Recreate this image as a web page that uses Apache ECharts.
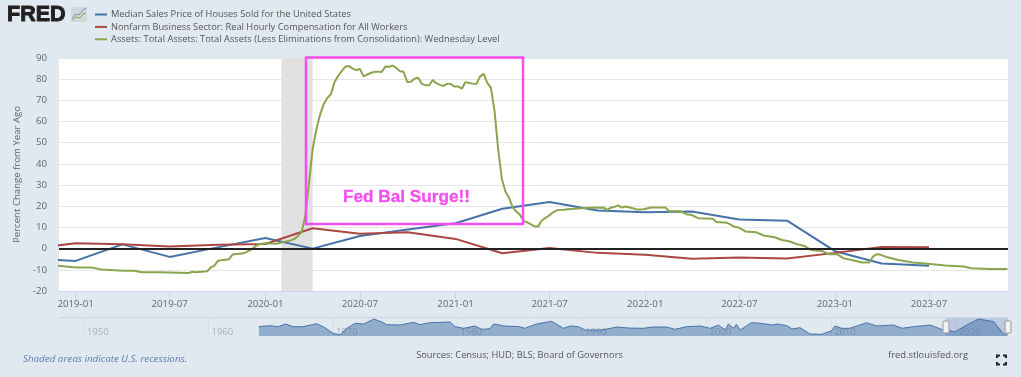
<!DOCTYPE html>
<html><head><meta charset="utf-8">
<style>html,body{margin:0;padding:0;background:#e1e9f0}#c{width:1021px;height:377px}</style>
<script src="https://cdn.jsdelivr.net/npm/echarts@6/dist/echarts.min.js"></script>
</head><body><div id="c"></div>
<script>
const blueName = 'Median Sales Price of Houses Sold for the United States';
const redName = 'Nonfarm Business Sector: Real Hourly Compensation for All Workers';
const greenName = 'Assets: Total Assets: Total Assets (Less Eliminations from Consolidation): Wednesday Level';
const quarters = ['2018-10-01','2019-01-01','2019-04-01','2019-07-01','2019-10-01','2020-01-01','2020-04-01','2020-07-01','2020-10-01','2021-01-01','2021-04-01','2021-07-01','2021-10-01','2022-01-01','2022-04-01','2022-07-01','2022-10-01','2023-01-01','2023-04-01','2023-07-01'];
const blueValues = [-4.6,-5.8,2.0,-3.9,0.6,5.0,0.0,6.0,9.0,12.0,18.8,22.0,18.0,17.2,17.5,13.8,13.2,-1.2,-7.0,-8.1];
const redValues = [-0.1,2.5,2.1,1.0,1.8,2.2,9.6,7.0,7.7,4.6,-2.2,0.3,-2.0,-2.9,-4.8,-4.2,-4.7,-2.0,0.8,0.6];
const greenStart = '2018-11-28';
const greenWeeks = [0,5,9,12,18,21,23,28,36,37,38,41,42,43,44,47,48,51,53,55,57,59,60,64,65,66,67,68,69,70,71,72,73,74,75,76,77,78,79,80,81,82,83,84,85,86,87,88,89,90,91,92,93,94,95,96,97,98,99,100,101,102,103,104,105,106,107,108,109,110,111,112,113,114,115,116,117,118,119,120,121,122,123,124,125,126,127,128,129,130,131,132,133,134,135,136,137,138,139,140,146,150,151,152,153,154,155,156,158,159,161,163,167,168,171,173,174,176,180,181,184,186,187,189,192,194,197,199,201,203,205,207,210,212,214,216,219,221,223,224,225,226,228,231,235,239,244,249,251,256,261];
const greenValues = [-8.1,-8.9,-8.85,-9.8,-10.4,-10.4,-11.1,-11.2,-11.5,-10.9,-11.2,-10.7,-8.9,-8,-5.7,-5,-2.8,-2.2,-0.6,2,2.5,2.4,2.3,3.9,4.6,6,7.9,15.5,31,47,56,63,68,71,72.8,78.5,81.5,83.8,85.9,86.2,85,84.3,84.8,81.3,82.2,82.9,83.5,83.5,83.4,86,85.9,86.4,85.3,83.7,83.5,78.7,78.8,80.2,80.7,77.8,77.2,77,79.6,78.1,77.3,76.8,77.9,77.7,76.5,76.6,75.5,78.6,78.2,77.9,77.7,81.2,82.6,78.3,76,65,47,33,27,24,19.5,17.5,16,13,12.4,11.5,10.5,10.5,13.3,14.5,15.6,17,18,18.3,18.4,18.6,19.3,19.4,18.3,19.4,19.7,20.4,19.4,19.9,19.1,18.5,18.6,19.4,19.4,17.7,17.7,16.1,16,14.4,14.1,12.6,12.2,10.3,10,8.1,7.7,6.2,5.4,4.1,3.5,2.2,1.4,-0.6,-1.1,-2.7,-2.5,-4.6,-5.7,-6.5,-6.5,-3.8,-2.7,-2.8,-4.1,-5.4,-6.5,-7.1,-8,-8.4,-9.3,-9.6,-9.6];
const xTickLabels = ['2019-01-01','2019-07-01','2020-01-01','2020-07-01','2021-01-01','2021-07-01','2022-01-01','2022-07-01','2023-01-01','2023-07-01'];
const recession = ['2020-02-01','2020-04-01'];
const navYears = [1964.05,1964.9,1965.6,1966.2,1966.8,1967.6,1968.7,1969.35,1970,1970.55,1971.1,1971.8,1972.45,1973.3,1974.05,1974.3,1975.4,1976.45,1977,1977.8,1979.4,1979.8,1980.5,1981.4,1981.95,1982.6,1982.9,1983.4,1983.7,1985,1985.4,1986.35,1987.55,1988.5,1989.05,1989.7,1990.25,1991.6,1992.8,1993.7,1994.9,1995.7,1996.8,1997.45,1998.4,1999.5,2000.3,2000.95,2001.5,2001.75,2002.15,2002.4,2002.7,2003.6,2004.3,2005.3,2005.65,2006.45,2006.85,2007.5,2008.3,2009.25,2010.05,2010.3,2010.85,2011.5,2012.85,2013.65,2015,2015.7,2016.6,2017.95,2019,2019.95,2020.9,2021.85,2023.05,2023.85,2024.15];
const navValues = [9.3,10.3,9.3,12,9.3,9.3,12.3,8.3,2.7,1,7.7,12.7,12,17,13.3,11.3,11,13.7,11.3,13.3,14,9.3,7.7,10,6.7,7.3,12,11,10,9.3,7.7,12,14.7,7.7,10,9.3,6,6,9,8,7.7,9,9,6.7,9.3,10,7.7,11,6,12,7.7,11.7,6,13.3,12.7,11,12,10.3,7,8.3,2,1.7,5.3,10,7.7,7.7,13.3,10,11,7.7,9.3,11,6,4.3,11,17,14.3,2,1];
const navTicks = [1950,1960,1970,1980,1990,2000,2010,2020];

const ts = s => new Date(s + 'T00:00:00Z').getTime();
const WEEK = 7 * 864e5;
const font = '"Open Sans", sans-serif';
const chart = echarts.init(document.getElementById('c'), null, {renderer: 'canvas'});
const txt = (x, y, text, fill, size, extra) => ({type: 'text', x, y, z: 50, silent: true,
  style: Object.assign({text, fill, font: `${size}px ${font}`, textVerticalAlign: 'middle'}, extra || {})});
const corner = (pts) => ({type: 'polyline', z: 50, silent: true, shape: {points: pts}, style: {stroke: '#222', lineWidth: 2, fill: null}});

chart.setOption({
  animation: false,
  backgroundColor: '#e1e9f0',
  color: ['#4572a7', '#aa4643', '#89a54e'],
  legend: {
    data: [blueName, redName, greenName], orient: 'vertical', left: 95, top: 8.5, itemWidth: 12, itemHeight: 2,
    itemGap: 0.4, icon: 'rect', selectedMode: false, padding: 0,
    textStyle: {fontFamily: font, fontSize: 9.3, lineHeight: 12, color: '#555', padding: [0, 0, 0, -1]}
  },
  grid: [
    {left: 59, top: 58, width: 949, height: 233, show: true, backgroundColor: '#fff', borderWidth: 0},
    {left: 59, top: 318, width: 949, height: 18, show: false}
  ],
  xAxis: [
    {type: 'value', gridIndex: 0, min: ts('2018-11-30'), max: ts('2023-11-30'),
      axisLine: {show: true, onZero: false, lineStyle: {color: '#ccd6eb'}},
      axisTick: {show: true, length: 10, lineStyle: {color: '#ccd6eb'}, customValues: xTickLabels.map(ts)},
      splitLine: {show: false},
      axisLabel: {customValues: xTickLabels.map(ts), margin: 8, color: '#666', fontFamily: font, fontSize: 9.7,
        hideOverlap: false, showMinLabel: true, showMaxLabel: true,
        formatter: v => new Date(v).toISOString().slice(0, 7)}},
    {type: 'value', gridIndex: 1, min: 1948, max: 2024.2,
      axisLine: {show: false},
      axisTick: {show: true, inside: true, length: 19, lineStyle: {color: '#d5dde6'}, customValues: navTicks},
      splitLine: {show: false},
      axisLabel: {inside: true, customValues: navTicks, margin: -1, align: 'left', color: '#a9b0b6', fontFamily: font,
        fontSize: 9.5, padding: [0, 0, 0, 3], verticalAlign: 'bottom', formatter: v => String(v)}}
  ],
  yAxis: [
    {type: 'value', gridIndex: 0, min: -20, max: 90, interval: 10,
      name: 'Percent Change from Year Ago', nameLocation: 'middle', nameGap: 35, nameRotate: 90,
      nameTextStyle: {color: '#666', fontFamily: font, fontSize: 9.6},
      axisLine: {show: false}, axisTick: {show: false},
      axisLabel: {color: '#666', fontFamily: font, fontSize: 9.7, margin: 12},
      splitLine: {lineStyle: {color: '#e6e6e6', width: 1}}},
    {type: 'value', gridIndex: 1, min: 0, max: 18, show: false}
  ],
  series: [
    {name: blueName, type: 'line', showSymbol: false, symbol: 'none', lineStyle: {width: 2}, z: 3,
      data: quarters.map((q, i) => [ts(q), blueValues[i]]),
      markArea: {silent: true, z: 1, itemStyle: {color: '#e1e1e1'}, data: [[{xAxis: ts(recession[0])}, {xAxis: ts(recession[1])}]]}},
    {name: redName, type: 'line', showSymbol: false, symbol: 'none', lineStyle: {width: 2}, z: 3,
      data: quarters.map((q, i) => [ts(q), redValues[i]])},
    {name: greenName, type: 'line', showSymbol: false, symbol: 'none', lineStyle: {width: 2}, z: 3,
      data: greenWeeks.map((w, i) => [ts(greenStart) + w * WEEK, greenValues[i]]),
      markLine: {silent: true, symbol: 'none', z: 6, label: {show: false}, lineStyle: {color: '#222', width: 2, type: 'solid'}, data: [{yAxis: 0}]}},
    {name: 'navigator', type: 'line', xAxisIndex: 1, yAxisIndex: 1, showSymbol: false, symbol: 'none',
      lineStyle: {width: 1, color: '#4572a7'}, itemStyle: {color: '#4572a7'}, areaStyle: {color: '#4572a7', opacity: 0.5},
      data: navYears.map((y, i) => [y, navValues[i]]),
      markArea: {silent: true, itemStyle: {color: 'rgba(102,133,194,0.3)'}, data: [[{xAxis: 2019.2}, {xAxis: 2024.2}]]}}
  ],
  graphic: [
    {type: 'rect', z: 40, silent: true, shape: {x: 306, y: 57.5, width: 217, height: 166.5}, style: {fill: null, stroke: '#f44ef0', lineWidth: 2.5}},
    {type: 'text', z: 41, silent: true, x: 343, y: 197, style: {text: 'Fed Bal Surge!!', fill: '#f44ef0', font: 'bold 17.2px "Liberation Sans", sans-serif', textVerticalAlign: 'middle', stroke: '#f44ef0', lineWidth: 0.3}},
    {type: 'text', z: 50, silent: true, x: 7, y: 15.5, style: {text: 'FRED', fill: '#231f20', font: 'bold 21.5px "Liberation Sans", sans-serif', textVerticalAlign: 'middle', stroke: '#231f20', lineWidth: 0.9}},
    {type: 'rect', z: 50, silent: true, shape: {x: 71, y: 7, width: 16, height: 15}, style: {fill: '#d3d6da'}},
    {type: 'polyline', z: 51, silent: true, shape: {points: [[72, 18], [76, 14], [79, 15], [83, 10], [86, 8]]}, style: {stroke: '#6f8fbf', lineWidth: 1, fill: null}},
    {type: 'polyline', z: 51, silent: true, shape: {points: [[72, 20], [76, 17], [80, 18], [83, 14], [86, 13]]}, style: {stroke: '#89a54e', lineWidth: 1, fill: null}},
    {type: 'line', z: 5, silent: true, shape: {x1: 59, y1: 317.5, x2: 1008, y2: 317.5}, style: {stroke: '#ccd6eb', lineWidth: 1}},
    {type: 'rect', z: 50, silent: true, shape: {x: 943, y: 321, width: 6, height: 12, r: 1}, style: {fill: '#f2f2f2', stroke: '#999', lineWidth: 1}},
    {type: 'rect', z: 50, silent: true, shape: {x: 1005, y: 321, width: 6, height: 12, r: 1}, style: {fill: '#f2f2f2', stroke: '#999', lineWidth: 1}},
    txt(23, 359, 'Shaded areas indicate U.S. recessions.', '#5a7cb0', 9.8, {font: `italic 9.8px ${font}`}),
    txt(519.5, 355, 'Sources: Census; HUD; BLS; Board of Governors', '#555', 9.3, {textAlign: 'center'}),
    txt(888, 355.5, 'fred.stlouisfed.org', '#555', 9.4),
    corner([[997, 358], [997, 355.5], [1000, 355.5]]),
    corner([[1003, 355.5], [1006, 355.5], [1006, 358]]),
    corner([[997, 362], [997, 364.5], [1000, 364.5]]),
    corner([[1003, 364.5], [1006, 364.5], [1006, 362]])
  ]
});
</script></body></html>
